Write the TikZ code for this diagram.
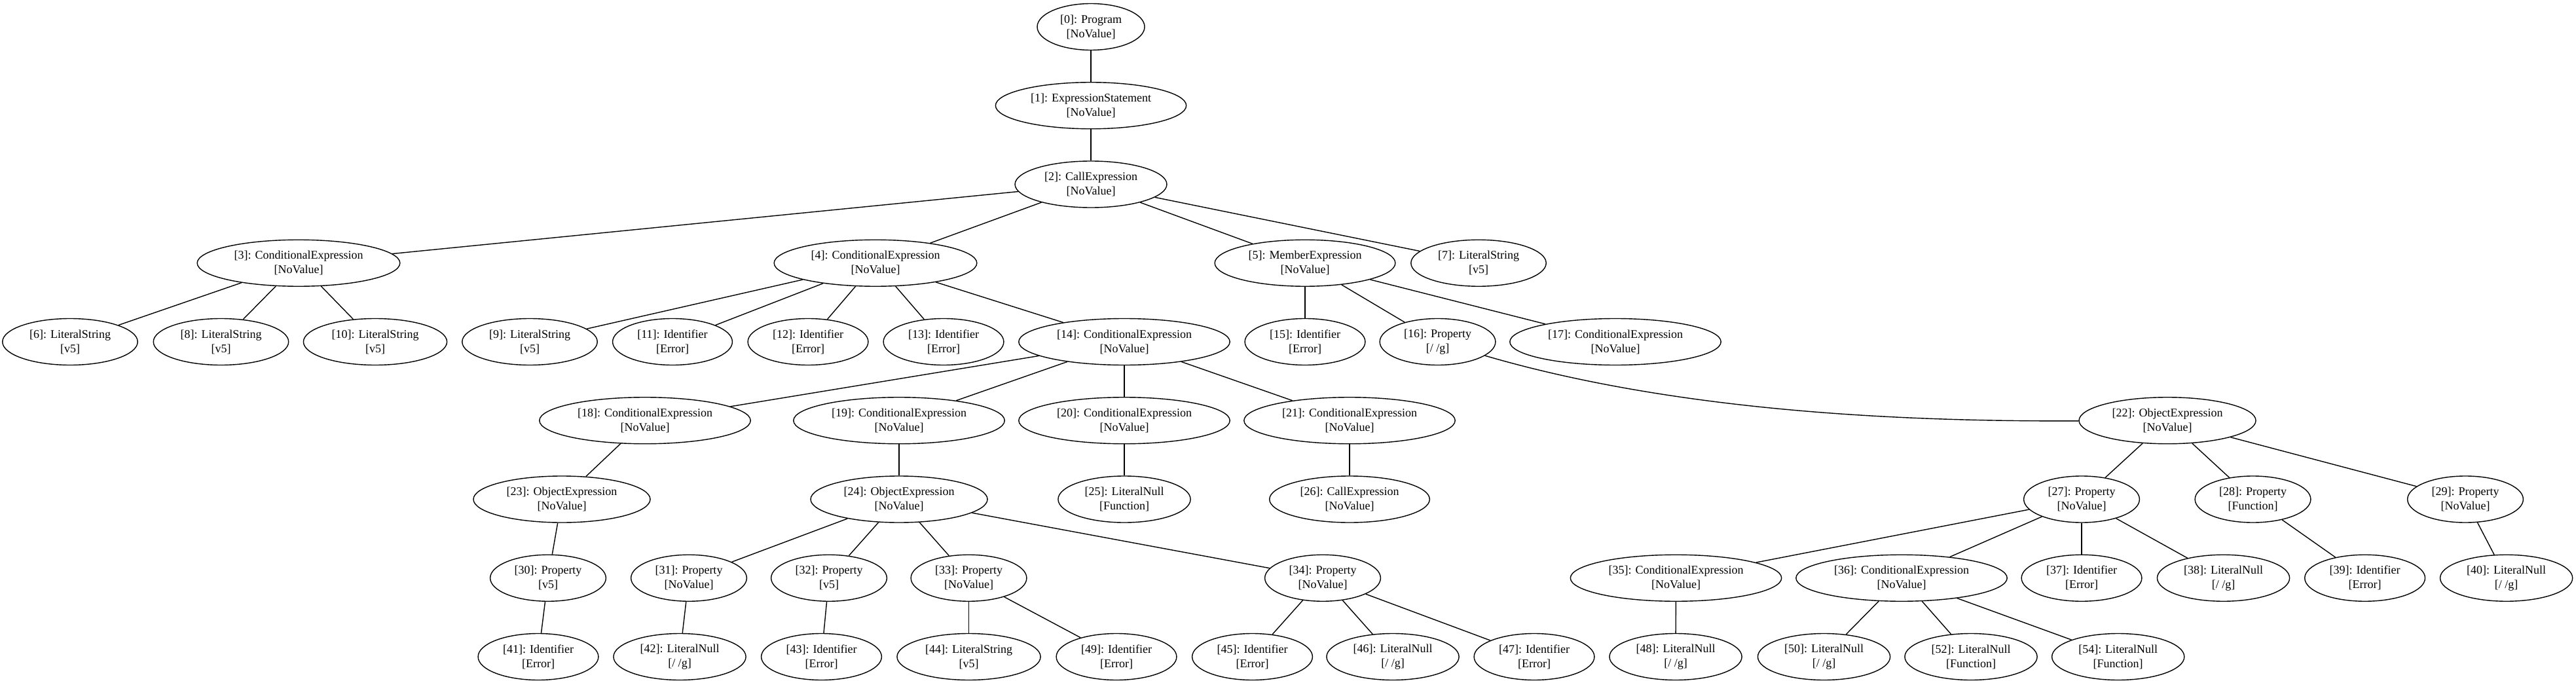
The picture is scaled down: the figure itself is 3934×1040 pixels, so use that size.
\documentclass[tikz,border=0pt]{standalone}
\usepackage{fontspec}
\setmainfont{Liberation Serif}
\usetikzlibrary{shapes.geometric}
\tikzset{
  nd/.style={ellipse, draw, line width=1.4pt, inner xsep=11pt, inner ysep=0pt,
    minimum height=71pt, align=center, font=\fontsize{18}{22}\selectfont},
  edge/.style={line width=1.4pt}
}
\begin{document}
\begin{tikzpicture}[x=1pt,y=-1pt]
\useasboundingbox (0,0) rectangle (3934,1040);
% rows
\def\ra{41}\def\rb{161.25}\def\rc{281.5}\def\rd{401.75}\def\re{522}
\def\rf{642.25}\def\rg{762.5}\def\rh{882.75}\def\ri{1003}
\node[nd] (n0) at (1666,\ra) {[0]: Program\\{[NoValue]}};
\node[nd] (n1) at (1666,\rb) {[1]: ExpressionStatement\\{[NoValue]}};
\node[nd] (n2) at (1666,\rc) {[2]: CallExpression\\{[NoValue]}};
\node[nd] (n3) at (456,\rd) {[3]: ConditionalExpression\\{[NoValue]}};
\node[nd] (n4) at (1337,\rd) {[4]: ConditionalExpression\\{[NoValue]}};
\node[nd] (n5) at (1993,\rd) {[5]: MemberExpression\\{[NoValue]}};
\node[nd] (n7) at (2258,\rd) {[7]: LiteralString\\{[v5]}};
\node[nd] (n6) at (107,\re) {[6]: LiteralString\\{[v5]}};
\node[nd] (n8) at (337.5,\re) {[8]: LiteralString\\{[v5]}};
\node[nd] (n10) at (573,\re) {[10]: LiteralString\\{[v5]}};
\node[nd] (n9) at (809,\re) {[9]: LiteralString\\{[v5]}};
\node[nd] (n11) at (1027,\re) {[11]: Identifier\\{[Error]}};
\node[nd] (n12) at (1234,\re) {[12]: Identifier\\{[Error]}};
\node[nd] (n13) at (1441,\re) {[13]: Identifier\\{[Error]}};
\node[nd] (n14) at (1717,\re) {[14]: ConditionalExpression\\{[NoValue]}};
\node[nd] (n15) at (1993,\re) {[15]: Identifier\\{[Error]}};
\node[nd] (n16) at (2195.5,\re) {[16]: Property\\{[/ /g]}};
\node[nd] (n17) at (2467,\re) {[17]: ConditionalExpression\\{[NoValue]}};
\node[nd] (n18) at (985,\rf) {[18]: ConditionalExpression\\{[NoValue]}};
\node[nd] (n19) at (1373,\rf) {[19]: ConditionalExpression\\{[NoValue]}};
\node[nd] (n20) at (1717,\rf) {[20]: ConditionalExpression\\{[NoValue]}};
\node[nd] (n21) at (2061,\rf) {[21]: ConditionalExpression\\{[NoValue]}};
\node[nd] (n22) at (3310,\rf) {[22]: ObjectExpression\\{[NoValue]}};
\node[nd] (n23) at (858,\rg) {[23]: ObjectExpression\\{[NoValue]}};
\node[nd] (n24) at (1373,\rg) {[24]: ObjectExpression\\{[NoValue]}};
\node[nd] (n25) at (1717,\rg) {[25]: LiteralNull\\{[Function]}};
\node[nd] (n26) at (2061,\rg) {[26]: CallExpression\\{[NoValue]}};
\node[nd] (n27) at (3179,\rg) {[27]: Property\\{[NoValue]}};
\node[nd] (n28) at (3440.5,\rg) {[28]: Property\\{[Function]}};
\node[nd] (n29) at (3765,\rg) {[29]: Property\\{[NoValue]}};
\node[nd] (n30) at (837,\rh) {[30]: Property\\{[v5]}};
\node[nd] (n31) at (1052,\rh) {[31]: Property\\{[NoValue]}};
\node[nd] (n32) at (1266,\rh) {[32]: Property\\{[v5]}};
\node[nd] (n33) at (1479.5,\rh) {[33]: Property\\{[NoValue]}};
\node[nd] (n34) at (2020,\rh) {[34]: Property\\{[NoValue]}};
\node[nd] (n35) at (2559.5,\rh) {[35]: ConditionalExpression\\{[NoValue]}};
\node[nd] (n36) at (2904,\rh) {[36]: ConditionalExpression\\{[NoValue]}};
\node[nd] (n37) at (3179,\rh) {[37]: Identifier\\{[Error]}};
\node[nd] (n38) at (3395.5,\rh) {[38]: LiteralNull\\{[/ /g]}};
\node[nd] (n39) at (3611.6,\rh) {[39]: Identifier\\{[Error]}};
\node[nd] (n40) at (3827.6,\rh) {[40]: LiteralNull\\{[/ /g]}};
\node[nd] (n41) at (822,\ri) {[41]: Identifier\\{[Error]}};
\node[nd] (n42) at (1038,\ri) {[42]: LiteralNull\\{[/ /g]}};
\node[nd] (n43) at (1254.5,\ri) {[43]: Identifier\\{[Error]}};
\node[nd] (n44) at (1479.5,\ri) {[44]: LiteralString\\{[v5]}};
\node[nd] (n49) at (1705,\ri) {[49]: Identifier\\{[Error]}};
\node[nd] (n45) at (1912.5,\ri) {[45]: Identifier\\{[Error]}};
\node[nd] (n46) at (2127,\ri) {[46]: LiteralNull\\{[/ /g]}};
\node[nd] (n47) at (2343,\ri) {[47]: Identifier\\{[Error]}};
\node[nd] (n48) at (2559,\ri) {[48]: LiteralNull\\{[/ /g]}};
\node[nd] (n50) at (2785.5,\ri) {[50]: LiteralNull\\{[/ /g]}};
\node[nd] (n52) at (3010,\ri) {[52]: LiteralNull\\{[Function]}};
\node[nd] (n54) at (3234.7,\ri) {[54]: LiteralNull\\{[Function]}};
% edges
\foreach \a/\b in {0/1,1/2,2/3,2/4,2/5,2/7,3/6,3/8,3/10,4/9,4/11,4/12,4/13,4/14,
  5/15,5/16,5/17,14/18,14/19,14/20,14/21,18/23,19/24,20/25,21/26,22/27,22/28,22/29,
  23/30,24/31,24/32,24/33,24/34,27/35,27/36,27/37,27/38,28/39,29/40,
  30/41,31/42,32/43,33/44,33/49,34/45,34/46,34/47,35/48,36/50,36/52,36/54}
  \draw[edge] (n\a) -- (n\b);
\draw[edge] (n16) .. controls (2558,628) and (2900,644) .. (n22);
\end{tikzpicture}
\end{document}
